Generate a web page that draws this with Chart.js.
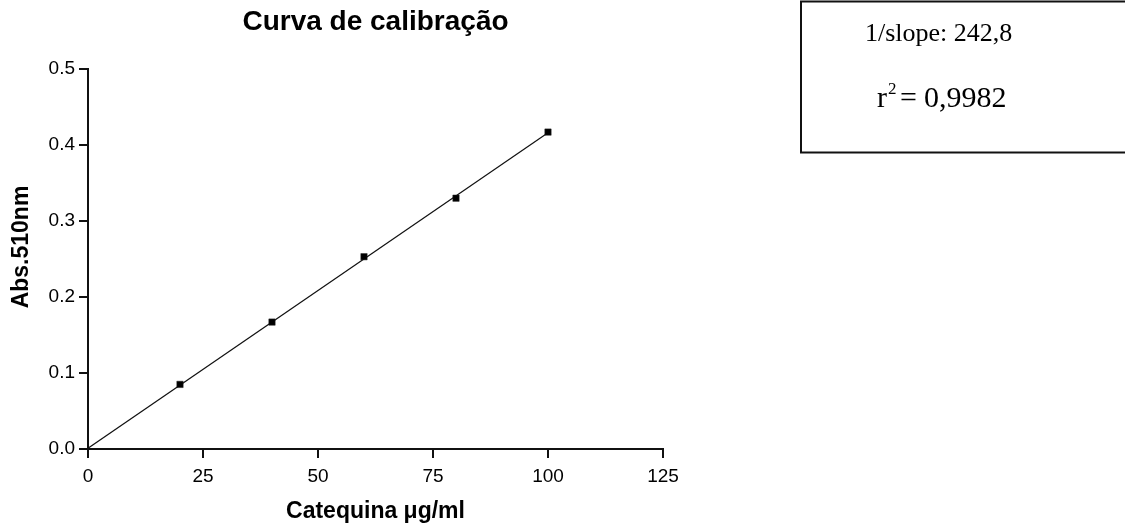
<!DOCTYPE html>
<html>
<head>
<meta charset="utf-8">
<script src="https://cdn.jsdelivr.net/npm/chart.js@4/dist/chart.umd.min.js"></script>
<style>
  html, body { margin: 0; padding: 0; background: #fff; }
  #wrap { width: 1125px; height: 529px; }
</style>
</head>
<body>
<div id="wrap"><canvas id="chart" width="1125" height="529"></canvas></div>
<script>
// data
const conc = [20, 40, 60, 80, 100];
const absorb = [0.085, 0.167, 0.253, 0.330, 0.417];
const fitX = [0, 100];
const fitY = [0.001, 0.416];
const xTicks = [0, 25, 50, 75, 100, 125];
const yTicks = [0.0, 0.1, 0.2, 0.3, 0.4, 0.5];

const black = '#000';
const sans = '"Liberation Sans", Arial, sans-serif';
const serif = '"Liberation Serif", "Times New Roman", serif';

//y axis title (sits a little above the middle of the axis) and the results box
const extras = {
    id: 'extras',
    afterDraw: (chart) => {
        const ctx = chart.ctx;
        const area = chart.chartArea;
        ctx.save();
        ctx.fillStyle = black;
        ctx.font = 'bold 23px ' + sans;
        ctx.textAlign = 'center';
        ctx.textBaseline = 'middle';
        ctx.translate(22, (area.top + area.bottom) / 2 - 12);
        ctx.rotate(-Math.PI / 2);
        ctx.fillText('Abs.510nm', 0, 0);
        ctx.restore();

        ctx.save();
        ctx.strokeStyle = '#111';
        ctx.lineWidth = 2;
        ctx.strokeRect(801, 1.5, 340, 151);
        ctx.fillStyle = black;
        ctx.textBaseline = 'alphabetic';
        ctx.font = '26px ' + serif;
        ctx.fillText('1/slope: 242,8', 865, 41);
        ctx.font = '30px ' + serif;
        ctx.fillText('r', 877, 107);
        ctx.fillText('=', 900, 107);
        ctx.fillText('0,9982', 924, 107);
        ctx.font = '17px ' + serif;
        ctx.fillText('2', 888, 94);
        ctx.restore();
    }
};

const config = {
    type: 'scatter',
    data: {
        datasets: [{
            label: 'dados',
            data: conc.map((x, i) => ({x: x, y: absorb[i]})),
            backgroundColor: black,
            borderColor: '#222',
            borderWidth: 0.5,
            pointStyle: 'rect',
            pointRadius: 4.5,
            showLine: false
        }, {
            label: 'ajuste',
            data: fitX.map((x, i) => ({x: x, y: fitY[i]})),
            borderColor: '#111',
            borderWidth: 1.2,
            pointRadius: 0,
            showLine: true
        }]
    },
    options: {
        responsive: false,
        animation: false,
        layout: { padding: { left: 0, right: 462, top: 0, bottom: 0 } },
        plugins: {
            legend: { display: false },
            tooltip: { enabled: false },
            title: {
                display: true,
                fullSize: false,
                text: 'Curva de calibração',
                color: black,
                font: { family: sans, size: 28, weight: 'bold', lineHeight: 1.2 },
                padding: { top: 5, bottom: 30.4 }
            }
        },
        scales: {
            x: {
                type: 'linear',
                min: 0,
                max: 125,
                afterFit: (s) => { s.height = 80; },
                afterBuildTicks: (s) => { s.ticks = xTicks.map(v => ({value: v})); },
                border: { color: '#111', width: 2 },
                grid: { drawOnChartArea: false, color: '#111', tickLength: 9, lineWidth: 2 },
                ticks: {
                    color: black,
                    padding: 7,
                    font: { family: sans, size: 19 },
                    callback: (v) => v
                },
                title: {
                    display: true,
                    text: 'Catequina μg/ml',
                    color: black,
                    font: { family: sans, size: 23, weight: 'bold', lineHeight: 1.2 },
                    padding: { top: 0, bottom: 4 }
                }
            },
            y: {
                type: 'linear',
                min: 0,
                max: 0.5,
                afterFit: (s) => { s.width = 88; },
                afterBuildTicks: (s) => { s.ticks = yTicks.map(v => ({value: v})); },
                border: { color: '#111', width: 2 },
                grid: { drawOnChartArea: false, color: '#111', tickLength: 9, lineWidth: 2 },
                ticks: {
                    color: black,
                    padding: 4,
                    font: { family: sans, size: 19 },
                    callback: (v) => v.toFixed(1)
                }
            }
        }
    },
    plugins: [extras]
};

const chart = new Chart(document.getElementById('chart'), config);
</script>
</body>
</html>
